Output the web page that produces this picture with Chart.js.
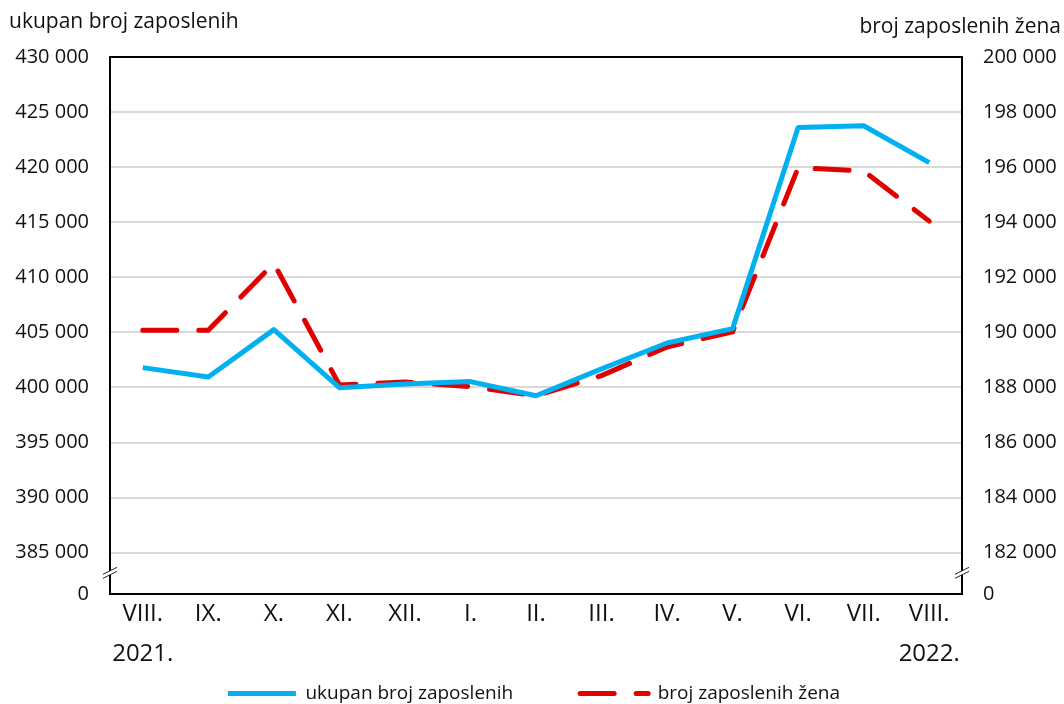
<!DOCTYPE html>
<html>
<head>
<meta charset="utf-8">
<script src="https://cdn.jsdelivr.net/npm/chart.js@4"></script>
<style>
  body { margin: 0; background: #fff; }
  canvas { display: block; }
</style>
</head>
<body>
<canvas id="ZaposleniChart" width="1064" height="704"></canvas>
<script>
const categories = [['VIII.', '2021.'], 'IX.', 'X.', 'XI.', 'XII.', 'I.', 'II.', 'III.', 'IV.', 'V.', 'VI.', 'VII.', ['VIII.', '2022.']];
const ukupno = [401800, 400950, 405250, 399980, 400320, 400530, 399250, 401690, 404040, 405340, 423600, 423760, 420410];
const zene = [190080, 190080, 192510, 188090, 188200, 188030, 187700, 188430, 189470, 190020, 195980, 195860, 194040];
const leftTicks = [385000, 390000, 395000, 400000, 405000, 410000, 415000, 420000, 425000, 430000];
const rightTicks = [182000, 184000, 186000, 188000, 190000, 192000, 194000, 196000, 198000, 200000];

// the "0" row sits below a break in both axes
const leftMin = 381250;
const rightMin = 180500;

const FONT = "'Open Sans', sans-serif";
const fmt = (v) => String(v).replace(/\B(?=(\d{3})+(?!\d))/g, ' ');

const axisTitles = {
  id: 'axisTitles',
  afterDraw(chart) {
    const ctx = chart.ctx;
    ctx.save();
    ctx.fillStyle = '#111';
    ctx.font = `21px ${FONT}`;
    ctx.textBaseline = 'middle';
    ctx.textAlign = 'left';
    ctx.fillText('ukupan broj zaposlenih', 9, 22);
    ctx.textAlign = 'right';
    ctx.fillText('broj zaposlenih žena', 1061, 27);
    ctx.restore();
  }
};

const axisBreaks = {
  id: 'axisBreaks',
  afterDraw(chart) {
    const ctx = chart.ctx;
    const area = chart.chartArea;
    const y = chart.scales.y;
    const yb = (y.getPixelForValue(385000) + y.getPixelForValue(leftMin)) / 2;
    ctx.save();
    [area.left, area.right].forEach(x => {
      ctx.fillStyle = '#fff';
      ctx.beginPath();
      ctx.moveTo(x - 7, yb + 1);
      ctx.lineTo(x + 7, yb - 6);
      ctx.lineTo(x + 7, yb - 2);
      ctx.lineTo(x - 7, yb + 5);
      ctx.closePath();
      ctx.fill();
      ctx.strokeStyle = '#222';
      ctx.lineWidth = 1;
      ctx.beginPath();
      ctx.moveTo(x - 7, yb + 1); ctx.lineTo(x + 7, yb - 6);
      ctx.moveTo(x - 7, yb + 5); ctx.lineTo(x + 7, yb - 2);
      ctx.stroke();
    });
    ctx.restore();
  }
};

const ctx = document.getElementById('ZaposleniChart');
new Chart(ctx, {
  type: 'line',
  data: {
    labels: categories,
    datasets: [{
      label: 'ukupan broj zaposlenih',
      data: ukupno,
      yAxisID: 'y',
      borderColor: '#00b0f0',
      backgroundColor: '#00b0f0',
      borderWidth: 5,
      pointRadius: 0,
      tension: 0,
      borderJoinStyle: 'round'
    }, {
      label: 'broj zaposlenih žena',
      data: zene,
      yAxisID: 'y1',
      borderColor: '#e00000',
      backgroundColor: '#e00000',
      borderWidth: 5,
      borderDash: [34, 22],
      borderCapStyle: 'round',
      pointRadius: 0,
      tension: 0
    }]
  },
  options: {
    responsive: false,
    animation: false,
    layout: {
      padding: { left: 8, right: 4, top: 57, bottom: -9 }
    },
    plugins: {
      tooltip: { enabled: false },
      legend: {
        position: 'bottom',
        labels: {
          usePointStyle: true,
          pointStyle: 'line',
          pointStyleWidth: 68,
          boxHeight: 10,
          padding: 10,
          color: '#111',
          font: { family: FONT, size: 19 },
          generateLabels: (chart) => {
            const items = Chart.defaults.plugins.legend.labels.generateLabels(chart);
            items.forEach(item => {
              const ds = chart.data.datasets[item.datasetIndex];
              item.lineDash = ds.borderDash || [];
              item.lineCap = ds.borderCapStyle || 'butt';
              item.lineWidth = 5;
              // wider gap after the first entry
              if (item.datasetIndex === 0) item.text += '\u2003\u2003\u2003';
            });
            return items;
          }
        }
      }
    },
    scales: {
      x: {
        offset: true,
        grid: { display: false, drawTicks: false },
        border: { color: '#000', width: 2 },
        ticks: {
          color: '#111',
          padding: 0,
          maxRotation: 0,
          autoSkip: false,
          font: { family: FONT, size: 24, lineHeight: 1.667 }
        }
      },
      y: {
        position: 'left',
        min: leftMin,
        max: 430000,
        afterBuildTicks: (scale) => {
          scale.ticks = [leftMin, ...leftTicks].map(v => ({ value: v }));
        },
        afterFit: (scale) => { scale.width = 102; },
        grid: {
          drawTicks: false,
          lineWidth: 2,
          color: (c) => (c.tick && (c.tick.value === 430000 || c.tick.value === leftMin)) ? '#000' : '#d9d9d9'
        },
        border: { color: '#000', width: 2 },
        ticks: {
          color: '#111',
          padding: 21,
          font: { family: FONT, size: 20 },
          callback: (v) => v === leftMin ? '0' : fmt(v)
        }
      },
      y1: {
        position: 'right',
        min: rightMin,
        max: 200000,
        afterBuildTicks: (scale) => {
          scale.ticks = [rightMin, ...rightTicks].map(v => ({ value: v }));
        },
        afterFit: (scale) => { scale.width = 98; },
        grid: { display: false, drawTicks: false },
        border: { color: '#000', width: 2 },
        ticks: {
          color: '#111',
          padding: 21,
          font: { family: FONT, size: 20 },
          callback: (v) => v === rightMin ? '0' : fmt(v)
        }
      }
    }
  },
  plugins: [axisTitles, axisBreaks]
});
</script>
</body>
</html>
